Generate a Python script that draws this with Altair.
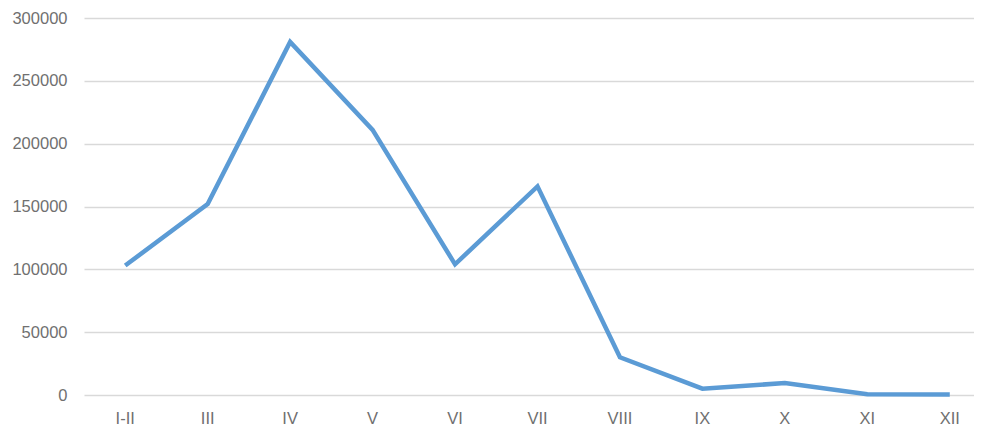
import altair as alt
import pandas as pd

months = ["I-II", "III", "IV", "V", "VI", "VII", "VIII", "IX", "X", "XI", "XII"]
values = [103000, 152000, 281000, 211000, 104000, 166000, 30000, 5000, 9500, 600, 300]
y_ticks = [0, 50000, 100000, 150000, 200000, 250000, 300000]

df = pd.DataFrame({"month": months, "value": values})

label_color = "#707070"

chart = alt.Chart(df).mark_line(
    color="#5b9bd5", strokeWidth=4.5, strokeJoin="miter", strokeCap="butt"
).encode(
    x=alt.X("month:N", sort=months,
            scale=alt.Scale(type="band", range=[0, 907], paddingInner=0, paddingOuter=0),
            axis=alt.Axis(title=None, labelAngle=0, ticks=False, domain=False,
                          grid=False, labelPadding=15, labelFontSize=16.5,
                          labelColor=label_color, labelFont="Liberation Sans")),
    y=alt.Y("value:Q",
            scale=alt.Scale(domain=[0, 300000], nice=False),
            axis=alt.Axis(title=None, values=y_ticks, format="d", ticks=False,
                          domain=False, gridColor="#d9d9d9", gridWidth=1.5,
                          labelPadding=17, labelFontSize=16.5, labelColor=label_color,
                          labelFont="Liberation Sans")),
).properties(
    width=890, height=377,
    autosize=alt.AutoSizeParams(type="none"),
    padding={"left": 76, "top": 10, "right": 0, "bottom": 30},
).configure_view(stroke=None)

chart.save("out.html", embed_options={"renderer": "svg", "actions": False})
